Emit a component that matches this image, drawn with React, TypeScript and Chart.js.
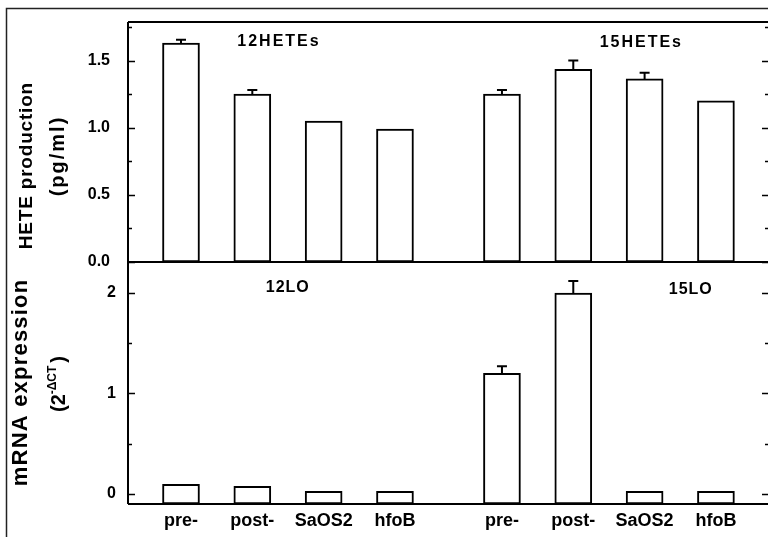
import React, { useEffect, useRef } from 'react';
import { Chart, registerables } from 'chart.js';

Chart.register(...registerables);

const groupLabels = ['pre-', 'post-', 'SaOS2', 'hfoB'];
const xLabels = [...groupLabels, ...groupLabels];
const xPositions = [1, 2, 3, 4, 5.5, 6.5, 7.5, 8.5];
const heteValues = [1.63, 1.25, 1.05, 0.99, 1.25, 1.435, 1.363, 1.2];
const heteErrors = [0.025, 0.03, 0, 0, 0.03, 0.065, 0.047, 0];
const mrnaValues = [0.093, 0.073, 0.023, 0.023, 1.2, 2.0, 0.023, 0.023];
const mrnaErrors = [0, 0, 0, 0, 0.07, 0.12, 0, 0];
const heteTicks = [0, 0.5, 1.0, 1.5];
const heteMinorTicks = [0.25, 0.75, 1.25, 1.75];
const mrnaTicks = [0, 1, 2];
const mrnaMinorTicks = [0.5, 1.5];
const topPanelLabels = ['12HETEs', '15HETEs'];
const bottomPanelLabels = ['12LO', '15LO'];

const HETE_MIN = 0;
const HETE_MAX = 1.787;
const MRNA_MIN = -0.103;
const MRNA_MAX = 2.31;

const FONT = '"Liberation Sans", Arial, Helvetica, sans-serif';

function vText(ctx: CanvasRenderingContext2D, text: string, cx: number, cy: number, size: number, spacing: number) {
  ctx.save();
  ctx.translate(cx, cy);
  ctx.rotate(-Math.PI / 2);
  ctx.font = `bold ${size}px ${FONT}`;
  (ctx as any).letterSpacing = `${spacing}px`;
  ctx.textAlign = 'center';
  ctx.textBaseline = 'middle';
  ctx.fillStyle = '#000';
  ctx.fillText(text, spacing / 2, 0);
  ctx.restore();
}

function hText(ctx: CanvasRenderingContext2D, text: string, cx: number, cy: number, size: number, spacing: number) {
  ctx.save();
  ctx.font = `bold ${size}px ${FONT}`;
  (ctx as any).letterSpacing = `${spacing}px`;
  ctx.textAlign = 'center';
  ctx.textBaseline = 'middle';
  ctx.fillStyle = '#000';
  ctx.fillText(text, cx + spacing / 2, cy);
  ctx.restore();
}

const decorPlugin = {
  id: 'decor',
  afterDatasetsDraw(chart: any) {
    const { ctx, chartArea: a, scales } = chart;
    const xs = scales.x;
    const yT = scales.yTop;
    const yB = scales.yBot;
    ctx.save();
    ctx.strokeStyle = '#000';
    ctx.lineWidth = 2;
    const drawErr = (vals: number[], errs: number[], ys: any) => {
      vals.forEach((v, i) => {
        const e = errs[i];
        if (!e) return;
        const px = xs.getPixelForValue(xPositions[i]);
        const y0 = ys.getPixelForValue(v);
        const y1 = ys.getPixelForValue(v + e);
        ctx.beginPath();
        ctx.moveTo(px, y0);
        ctx.lineTo(px, y1);
        ctx.moveTo(px - 5, y1);
        ctx.lineTo(px + 5, y1);
        ctx.stroke();
      });
    };
    drawErr(heteValues, heteErrors, yT);
    drawErr(mrnaValues, mrnaErrors, yB);
    ctx.beginPath();
    ctx.moveTo(a.left, a.top);
    ctx.lineTo(a.left, a.bottom);
    ctx.moveTo(a.left, a.top);
    ctx.lineTo(a.right, a.top);
    ctx.moveTo(a.left, yT.bottom);
    ctx.lineTo(a.right, yT.bottom);
    ctx.moveTo(a.left, a.bottom);
    ctx.lineTo(a.right, a.bottom);
    ctx.stroke();
    const drawTicks = (s: any, vals: number[], lenL: number, lenR: number) => {
      vals.forEach((v) => {
        const py = Math.round(s.getPixelForValue(v)) + 0.5;
        ctx.beginPath();
        ctx.moveTo(a.left, py);
        ctx.lineTo(a.left + lenL, py);
        ctx.moveTo(a.right, py);
        ctx.lineTo(a.right - lenR, py);
        ctx.stroke();
      });
    };
    ctx.lineWidth = 1.5;
    drawTicks(yT, heteTicks, 7, 6);
    drawTicks(yT, heteMinorTicks, 4, 3);
    drawTicks(yB, mrnaTicks, 7, 6);
    drawTicks(yB, mrnaMinorTicks, 4, 3);
    ctx.restore();
  },
  afterDraw(chart: any) {
    const { ctx, scales } = chart;
    const xs = scales.x;
    const yT = scales.yTop;
    const yB = scales.yBot;
    ctx.save();
    ctx.strokeStyle = '#222';
    ctx.lineWidth = 1.5;
    ctx.strokeRect(6.5, 8.5, 1200, 1200);
    ctx.restore();
    hText(ctx, topPanelLabels[0], xs.getPixelForValue(2.36), yT.getPixelForValue(1.64), 16, 2);
    hText(ctx, topPanelLabels[1], xs.getPixelForValue(7.44), yT.getPixelForValue(1.63), 16, 2);
    hText(ctx, bottomPanelLabels[0], xs.getPixelForValue(2.49), yB.getPixelForValue(2.05), 16, 1);
    hText(ctx, bottomPanelLabels[1], xs.getPixelForValue(8.14), yB.getPixelForValue(2.03), 16, 1);
    vText(ctx, 'HETE production', 27, 166, 19, 0.8);
    vText(ctx, '(pg/ml)', 58, 157, 20, 2);
    vText(ctx, 'mRNA expression', 21, 383, 22, 1.2);
    ctx.save();
    ctx.translate(59, 384);
    ctx.rotate(-Math.PI / 2);
    ctx.fillStyle = '#000';
    ctx.textBaseline = 'middle';
    ctx.textAlign = 'left';
    const big = `bold 20px ${FONT}`;
    const small = `bold 12px ${FONT}`;
    ctx.font = big;
    const w1 = ctx.measureText('(2').width;
    const w3 = ctx.measureText(')').width;
    ctx.font = small;
    const w2 = ctx.measureText('-ΔCT').width;
    const gap = 3;
    const total = w1 + w2 + gap + w3;
    let cx = -total / 2;
    ctx.font = big;
    ctx.fillText('(2', cx, 0);
    cx += w1;
    ctx.font = small;
    ctx.fillText('-ΔCT', cx, -6);
    cx += w2 + gap;
    ctx.font = big;
    ctx.fillText(')', cx, 0);
    ctx.restore();
  },
};

const noPadY = (s: any) => {
  s.width = 128;
  s.paddingTop = 0;
  s.paddingBottom = 0;
};

export default function App() {
  const ref = useRef<HTMLCanvasElement | null>(null);
  useEffect(() => {
    document.body.style.margin = '0';
    const canvas = ref.current;
    if (!canvas) return;
    const tickFont = { size: 16, weight: 'bold' as const, family: FONT };
    const chart = new Chart(canvas, {
      type: 'bar',
      data: {
        datasets: [
          {
            data: xPositions.map((x, i) => ({ x, y: heteValues[i] })) as any,
            xAxisID: 'x',
            yAxisID: 'yTop',
            backgroundColor: '#fff',
            borderColor: '#000',
            borderWidth: 2,
            borderSkipped: false,
            barThickness: 37,
            grouped: false,
            base: HETE_MIN,
          } as any,
          {
            data: xPositions.map((x, i) => ({ x, y: mrnaValues[i] })) as any,
            xAxisID: 'x',
            yAxisID: 'yBot',
            backgroundColor: '#fff',
            borderColor: '#000',
            borderWidth: 2,
            borderSkipped: false,
            barThickness: 37,
            grouped: false,
            base: MRNA_MIN,
          } as any,
        ],
      },
      options: {
        animation: false,
        responsive: false,
        devicePixelRatio: 1,
        layout: { padding: { top: 22, left: 0, right: 0, bottom: 0 } },
        plugins: { legend: { display: false }, tooltip: { enabled: false } },
        scales: {
          x: {
            type: 'linear',
            position: 'bottom',
            min: 0.257,
            max: 9.23,
            offset: false,
            grid: { display: false, drawTicks: false },
            border: { display: false },
            afterBuildTicks: (s: any) => {
              s.ticks = xPositions.map((v) => ({ value: v }));
            },
            ticks: {
              autoSkip: false,
              maxRotation: 0,
              minRotation: 0,
              padding: 6,
              color: '#000',
              font: { size: 18, weight: 'bold', family: FONT },
              callback: (_v: any, i: number) => xLabels[i],
            },
            afterFit: (s: any) => {
              s.height = 33;
              s.paddingLeft = 0;
              s.paddingRight = 0;
            },
          } as any,
          yBot: {
            type: 'linear',
            position: 'left',
            stack: 'panels',
            stackWeight: 242,
            min: MRNA_MIN,
            max: MRNA_MAX,
            grid: { display: false, drawTicks: false },
            border: { display: false },
            afterBuildTicks: (s: any) => {
              s.ticks = mrnaTicks.map((v) => ({ value: v }));
            },
            ticks: {
              autoSkip: false,
              padding: 12,
              color: '#000',
              font: tickFont,
              callback: (v: any) => String(Number(v)),
            },
            afterFit: noPadY,
          } as any,
          yTop: {
            type: 'linear',
            position: 'left',
            stack: 'panels',
            stackWeight: 240,
            min: HETE_MIN,
            max: HETE_MAX,
            grid: { display: false, drawTicks: false },
            border: { display: false },
            afterBuildTicks: (s: any) => {
              s.ticks = heteTicks.map((v) => ({ value: v }));
            },
            ticks: {
              autoSkip: false,
              padding: 18,
              color: '#000',
              font: tickFont,
              callback: (v: any) => Number(v).toFixed(1),
            },
            afterFit: noPadY,
          } as any,
        },
      },
      plugins: [decorPlugin],
    });
    return () => chart.destroy();
  }, []);
  return <canvas ref={ref} width={768} height={537} style={{ display: 'block' }} />;
}
